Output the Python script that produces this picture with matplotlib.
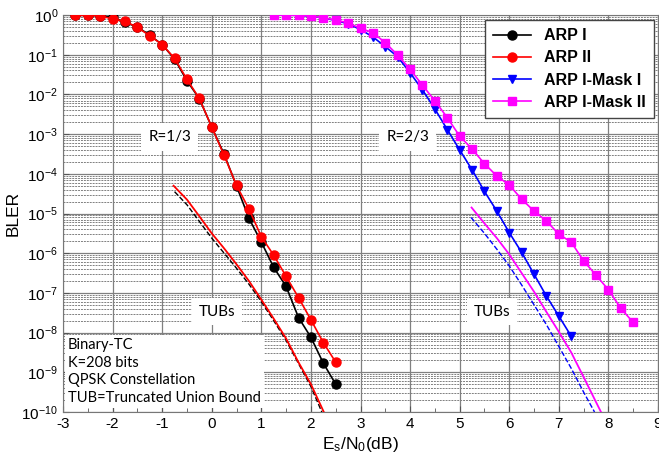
import numpy as np
import matplotlib
matplotlib.use("Agg")
import matplotlib.pyplot as plt
from matplotlib.ticker import LogLocator, FixedLocator, NullFormatter

plt.rcParams['font.family'] = ['Liberation Sans', 'DejaVu Sans']
plt.rcParams['mathtext.default'] = 'regular'
plt.rcParams['axes.unicode_minus'] = False

# ---- data ----
# R=1/3 simulated curves
snr_13 = np.arange(-2.75, 2.51, 0.25)
arp1 = [0.98, 0.98, 0.95, 0.87, 0.65, 0.50, 0.31, 0.18, 0.078, 0.022, 0.0078,
        1.5e-3, 3.1e-4, 4.9e-5, 7.6e-6, 1.9e-6, 4.4e-7, 1.45e-7, 2.4e-8,
        7.6e-9, 1.7e-9, 5.0e-10]
arp2 = [0.98, 0.98, 0.96, 0.79, 0.69, 0.49, 0.30, 0.18, 0.081, 0.024, 0.0079,
        1.5e-3, 2.9e-4, 5.1e-5, 1.3e-5, 2.6e-6, 8.9e-7, 2.6e-7, 7.6e-8,
        2.1e-8, 5.6e-9, 1.8e-9]

# R=2/3 simulated curves
snr_mask1 = np.arange(1.25, 7.26, 0.25)
mask1 = [1.0, 0.99, 0.98, 0.93, 0.84, 0.73, 0.60, 0.43, 0.28, 0.16, 0.089,
         0.035, 0.013, 4.3e-3, 1.3e-3, 4.0e-4, 1.26e-4, 3.6e-5, 1.15e-5,
         3.3e-6, 1.05e-6, 2.95e-7, 8.3e-8, 2.6e-8, 8.1e-9]
snr_mask2 = np.arange(1.25, 8.51, 0.25)
mask2 = [1.0, 0.99, 0.98, 0.94, 0.85, 0.75, 0.63, 0.46, 0.36, 0.20, 0.098,
         0.043, 0.017, 6.9e-3, 2.6e-3, 8.9e-4, 4.2e-4, 1.8e-4, 8.8e-5, 5.2e-5,
         2.3e-5, 1.15e-5, 6.5e-6, 3.0e-6, 1.9e-6, 6.4e-7, 2.8e-7, 1.2e-7,
         4.1e-8, 1.8e-8]

# truncated union bounds (log10 values)
tub_x_13 = [-0.77, -0.5, -0.25, 0.0, 0.25, 0.5, 0.75, 1.0, 1.25, 1.5, 1.75, 2.0, 2.26]
tub_arp2 = [-4.30, -4.65, -5.07, -5.50, -5.88, -6.28, -6.70, -7.17, -7.65, -8.15, -8.75, -9.30, -10.0]
tub_x_13b = [-0.75, -0.5, -0.25, 0.0, 0.25, 0.5, 0.75, 1.0, 1.25, 1.5, 1.75, 2.0, 2.22]
tub_arp1 = [-4.45, -4.78, -5.20, -5.62, -6.00, -6.38, -6.78, -7.22, -7.70, -8.20, -8.78, -9.36, -10.0]
tub_x_m2 = [5.24, 5.5, 5.75, 6.0, 6.25, 6.5, 6.75, 7.0, 7.25, 7.5, 7.75, 7.85]
tub_mask2 = [-4.85, -5.25, -5.62, -6.03, -6.50, -6.97, -7.48, -7.98, -8.50, -9.12, -9.75, -10.0]
tub_x_m1 = [5.23, 5.5, 5.75, 6.0, 6.25, 6.5, 6.75, 7.0, 7.25, 7.5, 7.72]
tub_mask1 = [-5.10, -5.50, -5.90, -6.32, -6.80, -7.30, -7.80, -8.35, -8.90, -9.50, -10.0]

# ---- figure ----
fig = plt.figure(figsize=(6.59, 4.61), dpi=100)
ax = fig.add_axes([63 / 659, 49 / 461, 595 / 659, 397 / 461])

ax.set_yscale('log')
ax.set_xlim(-3, 9)
ax.set_ylim(1e-10, 1)

# grid
ax.set_axisbelow(True)
ax.xaxis.set_major_locator(FixedLocator(np.arange(-3, 10, 1)))
ax.xaxis.set_minor_locator(FixedLocator(np.arange(-2.5, 9, 1)))
ax.yaxis.set_major_locator(LogLocator(base=10, numticks=20))
ax.yaxis.set_minor_locator(LogLocator(base=10, subs=np.arange(2, 10), numticks=20))
ax.yaxis.set_minor_formatter(NullFormatter())
ax.grid(which='major', color='#808080', linestyle='-', linewidth=0.9)
ax.grid(which='minor', axis='y', color='#808080', linestyle=(0, (2, 1)), linewidth=0.7)

ax.tick_params(which='both', direction='in', labelsize=11, colors='#555555',
               labelcolor='black')
ax.tick_params(which='major', length=4)
ax.tick_params(which='minor', length=3)
ax.tick_params(axis='y', which='minor', length=0)
for s in ax.spines.values():
    s.set_color('#777777')

# TUBs
ax.plot(tub_x_13b, 10 ** np.array(tub_arp1), color='black', linestyle='--', lw=1.0, zorder=3)
ax.plot(tub_x_13, 10 ** np.array(tub_arp2), color='red', lw=1.3, zorder=3)
ax.plot(tub_x_m1, 10 ** np.array(tub_mask1), color='blue', linestyle='--', lw=1.0, zorder=3)
ax.plot(tub_x_m2, 10 ** np.array(tub_mask2), color='magenta', lw=1.3, zorder=3)

# simulated curves
ax.plot(snr_13, arp1, color='black', marker='o', markersize=6.5, lw=1.2, label='ARP I', zorder=4)
ax.plot(snr_13, arp2, color='red', marker='o', markersize=6.5, lw=1.2, label='ARP II', zorder=4)
ax.plot(snr_mask1, mask1, color='blue', marker='v', markersize=6, lw=1.2, label='ARP I-Mask I', zorder=4)
ax.plot(snr_mask2, mask2, color='magenta', marker='s', markersize=6, lw=1.2, label='ARP I-Mask II', zorder=4)

# annotations
box = dict(facecolor='white', edgecolor='none', pad=5)
tfont = ['Lato', 'DejaVu Sans']
ax.text(-0.85, 10 ** -3.07, 'R=1/3', ha='center', va='center', fontsize=11, family=tfont, bbox=box, zorder=2)
ax.text(3.95, 10 ** -3.07, 'R=2/3', ha='center', va='center', fontsize=11, family=tfont, bbox=box, zorder=2)
ax.text(0.1, 10 ** -7.47, 'TUBs', ha='center', va='center', fontsize=11, family=tfont, bbox=box, zorder=2)
ax.text(5.65, 10 ** -7.47, 'TUBs', ha='center', va='center', fontsize=11, family=tfont, bbox=box, zorder=2)
ax.text(-2.9, 10 ** -9.83, 'Binary-TC\nK=208 bits\nQPSK Constellation\nTUB=Truncated Union Bound',
        ha='left', va='bottom', fontsize=10.5, family=tfont, linespacing=1.35,
        bbox=dict(facecolor='white', edgecolor='none', pad=2), zorder=2)

ax.set_ylabel('BLER', fontsize=12.5)
ax.yaxis.set_label_coords(-0.072, 0.5)
ax.set_xlabel('$E_s/N_0(dB)$', fontsize=12.5, labelpad=3)

leg = ax.legend(loc='upper right', bbox_to_anchor=(0.993, 0.987), borderaxespad=0,
                fancybox=False, edgecolor='#444444', framealpha=1, handlelength=2.4,
                labelspacing=0.45, borderpad=0.5,
                prop={'weight': 'bold', 'size': 11.5})
leg.get_frame().set_linewidth(1.0)
leg.set_zorder(5)

fig.savefig('out.png', dpi=100)
